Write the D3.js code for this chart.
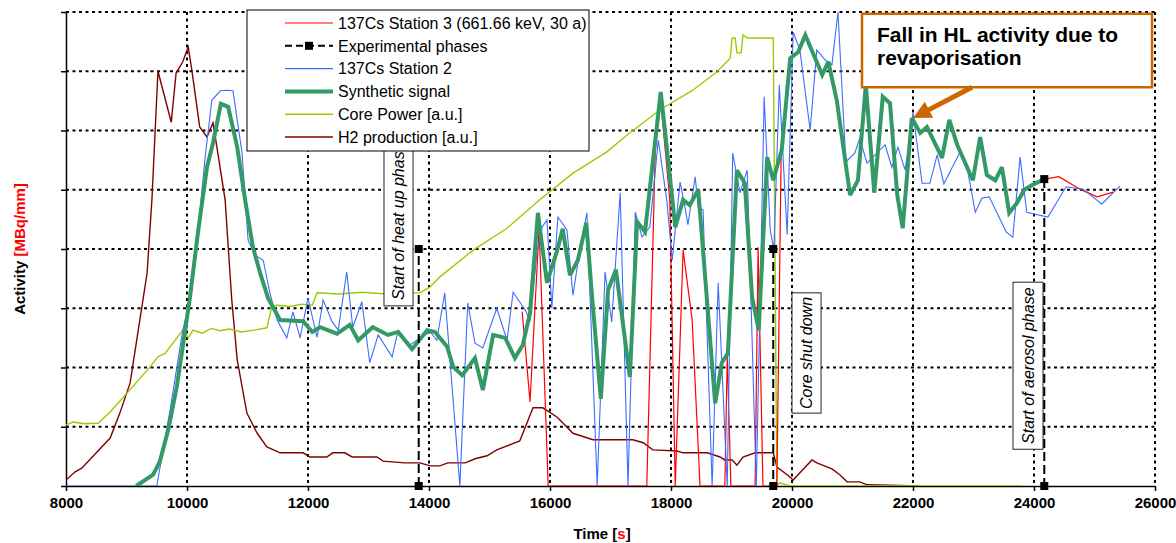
<!DOCTYPE html>
<html><head><meta charset="utf-8">
<script src="https://cdn.jsdelivr.net/npm/d3@7"></script>
<style>html,body{margin:0;padding:0;background:#fff;}svg{display:block;font-family:Arial,"Liberation Sans",sans-serif;}</style>
</head><body><svg id="chart" width="1176" height="543"></svg>
<script>
// ---------- DATA ----------
const xTicks = [8000,10000,12000,14000,16000,18000,20000,22000,24000,26000];
const yGrid = [0,1,2,3,4,5,6,7,8];

const h2Production = [[8000,0.10],[8150,0.24],[8260,0.30],[8730,0.81],[8890,1.23],[9060,1.74],[9220,2.80],[9340,3.59],[9420,4.83],[9520,7.00],[9740,6.14],[9820,6.97],[9930,7.16],[10020,7.41],[10080,7.02],[10210,6.06],[10330,5.89],[10430,6.13],[10510,5.62],[10630,4.83],[10740,3.14],[10830,2.13],[10990,1.23],[11160,0.89],[11320,0.66],[11540,0.56],[11920,0.56],[12030,0.49],[12310,0.49],[12410,0.56],[12610,0.56],[12730,0.49],[13140,0.49],[13240,0.42],[13600,0.39],[13850,0.39],[14020,0.34],[14180,0.34],[14310,0.39],[14600,0.39],[14760,0.46],[14960,0.51],[15120,0.61],[15500,0.76],[15720,1.32],[15880,1.32],[16120,1.16],[16380,0.89],[16710,0.78],[17370,0.78],[17540,0.73],[17700,0.61],[18100,0.59],[18200,0.56],[18600,0.56],[18810,0.49],[18890,0.44],[19010,0.44],[19090,0.35],[19190,0.49],[19390,0.56],[19690,0.56],[19750,0.32],[19920,0.19],[20020,0.10],[20100,0.19],[20330,0.44],[20410,0.39],[20660,0.29],[20790,0.19],[20910,0.07],[21120,0.07],[21240,0.02],[22120,0]];

const corePower = [[8000,1.03],[8120,1.08],[8300,1.05],[8530,1.06],[8730,1.25],[9010,1.57],[9390,2.01],[9520,2.18],[9640,2.24],[9930,2.63],[10020,2.50],[10100,2.63],[10250,2.58],[10400,2.66],[10550,2.62],[10700,2.65],[10900,2.60],[11100,2.63],[11320,2.67],[11400,3.02],[11490,3.05],[11700,3.03],[11900,3.07],[12070,3.05],[12150,3.26],[12500,3.24],[12900,3.27],[13300,3.24],[13600,3.26],[13850,3.26],[14020,3.36],[14180,3.53],[14730,3.98],[15290,4.35],[15830,4.83],[16380,5.28],[16940,5.64],[17270,5.92],[17820,6.35],[18360,6.68],[18760,6.99],[18980,7.22],[19010,7.56],[19060,7.56],[19090,7.31],[19160,7.31],[19190,7.61],[19260,7.56],[19690,7.56],[19750,0.02],[19800,0.05],[19970,0],[23770,0]];

const station3 = [[15540,2.94],[15670,1.42],[15820,4.35],[15970,0],[17600,0],[17740,5.67],[17830,6.51],[17980,4.83],[18070,0],[18200,3.98],[18350,2.80],[18480,0],[18890,0],[18930,2.21],[18990,0],[19390,0],[19440,4.03],[19520,0],[19750,0],[19820,5.55],null,[24170,5.18],[24410,5.22],[24760,5.01],[25040,4.88],[25310,4.96]];

const station2 = [[8000,0],[9500,0],[9720,1.28],[9930,2.63],[10000,2.92],[10170,4.15],[10300,5.55],[10410,6.51],[10550,6.67],[10660,6.68],[10760,6.67],[10910,5.62],[11010,4.15],[11120,3.90],[11260,3.81],[11370,3.26],[11490,2.80],[11650,2.50],[11750,2.94],[11870,2.50],[12000,3.17],[12150,2.51],[12250,3.14],[12400,2.77],[12500,2.63],[12640,3.61],[12740,2.68],[12890,3.11],[13020,2.08],[13160,2.55],[13390,2.18],[13490,2.63],[13690,2.38],[13850,2.50],[14020,2.60],[14130,2.46],[14260,3.26],[14510,0],[14640,3.09],[14760,2.41],[14890,2.33],[15120,3.00],[15290,2.46],[15390,3.27],[15590,2.97],[15670,2.80],[15790,3.98],[15870,4.37],[15950,4.49],[16030,3.00],[16130,4.54],[16280,4.32],[16380,3.22],[16500,4.03],[16610,4.61],[16780,0],[16910,3.61],[17020,2.77],[17160,4.95],[17290,0],[17410,4.62],[17520,4.20],[17650,4.37],[17790,5.84],[17930,4.83],[18020,3.81],[18070,4.32],[18150,5.13],[18230,4.71],[18280,4.41],[18400,5.22],[18450,4.71],[18530,4.66],[18680,0],[18780,3.43],[18930,0],[19020,5.62],[19140,4.95],[19260,5.33],[19410,0],[19540,6.57],[19640,4.32],[19700,3.98],[19790,6.77],[19920,4.24],[20020,7.66],[20130,7.36],[20300,6.01],[20410,7.36],[20550,7.19],[20660,7.11],[20760,8.0],[20890,5.47],[21040,5.62],[21120,5.87],[21240,5.45],[21540,5.76],[21650,5.38],[21750,5.72],[21870,5.33],[22000,6.30],[22150,5.11],[22280,5.11],[22400,5.59],[22510,5.10],[22780,5.64],[22910,5.28],[23030,4.62],[23140,4.86],[23260,4.88],[23540,4.29],[23650,4.20],[23770,5.55],[23880,4.62],[24230,4.54],[24530,5.05],[24810,5.01],[25120,4.76],[25420,5.06]];

const synthetic = [[9160,0],[9440,0.19],[9550,0.41],[9690,0.95],[9830,1.67],[9930,2.35],[10050,3.19],[10180,4.27],[10330,5.38],[10430,5.79],[10560,6.45],[10680,6.40],[10830,5.72],[10960,4.83],[11090,4.03],[11210,3.59],[11340,3.17],[11540,2.80],[11920,2.78],[12070,2.60],[12200,2.68],[12480,2.57],[12690,2.72],[12830,2.46],[13070,2.68],[13320,2.55],[13490,2.60],[13720,2.31],[13970,2.63],[14100,2.60],[14300,2.35],[14400,2.01],[14550,1.87],[14760,2.16],[14890,1.62],[15060,2.55],[15260,2.50],[15420,2.16],[15550,2.38],[15670,2.92],[15800,4.61],[15950,3.43],[16120,3.98],[16210,4.34],[16330,3.56],[16460,3.81],[16600,4.44],[16690,3.26],[16840,1.47],[16960,3.31],[17090,3.65],[17320,1.84],[17440,4.46],[17570,4.29],[17830,6.65],[17930,5.72],[18070,4.37],[18200,4.83],[18310,4.74],[18450,5.00],[18730,1.40],[18840,2.08],[18940,2.24],[19090,5.33],[19220,5.11],[19340,3.19],[19450,2.63],[19590,5.55],[19690,5.16],[19830,5.67],[19970,7.22],[20100,7.32],[20220,7.61],[20500,6.94],[20600,7.16],[20740,6.51],[20960,4.91],[21090,5.16],[21220,6.77],[21360,4.95],[21500,6.57],[21620,6.46],[21740,4.91],[21830,4.35],[21980,6.21],[22120,5.96],[22230,6.06],[22480,5.54],[22600,6.18],[22730,5.76],[22990,5.16],[23110,5.89],[23220,5.25],[23360,5.16],[23470,5.38],[23590,4.61],[23720,4.78],[23840,5.00],[23970,5.08],[24170,5.18]];

const phases = [[13830,0],[13830,4.0],null,[19690,4.0],[19690,0],null,[24170,5.18],[24170,0]];

const phaseLabels = ["Start of heat up phase","Core shut down","Start of aerosol phase"];
const legendLabels = ["137Cs Station 3 (661.66 keV, 30 a)","Experimental phases","137Cs Station 2","Synthetic signal","Core Power [a.u.]","H2 production [a.u.]"];
const annotationLines = ["Fall in HL activity due to","revaporisation"];

// ---------- LAYOUT ----------
const svg = d3.select("#chart");
const M = {left:66, right:1155, top:12, bottom:486};
const x = d3.scaleLinear().domain([8000,26000]).range([M.left,M.right]);
const y = d3.scaleLinear().domain([0,8]).range([M.bottom,M.top]);

const C = {red:"#ff0000", blue:"#3d6dff", green:"#339966", power:"#99cc00", h2:"#800000", orange:"#cc6600"};

// gridlines
const grid = svg.append("g");
grid.selectAll(".gy").data(yGrid.filter(d=>d>0)).join("line")
  .attr("x1",M.left).attr("x2",M.right).attr("y1",d=>y(d)).attr("y2",d=>y(d))
  .attr("stroke","#000").attr("stroke-width",2).attr("stroke-dasharray","3,3.5");
grid.selectAll(".gx").data(xTicks.filter(d=>d>8000)).join("line")
  .attr("x1",d=>x(d)).attr("x2",d=>x(d)).attr("y1",M.top).attr("y2",M.bottom)
  .attr("stroke","#000").attr("stroke-width",2).attr("stroke-dasharray","3,3.5");

// axes
const xAxis = svg.append("g").attr("transform",`translate(0,${M.bottom})`)
  .call(d3.axisBottom(x).tickValues(xTicks).tickFormat(d3.format("d")).tickSize(5).tickSizeOuter(0).tickPadding(6));
xAxis.select(".domain").attr("stroke","#000").attr("stroke-width",1.5);
xAxis.selectAll(".tick line").attr("stroke","#000").attr("stroke-width",1.5);
xAxis.selectAll("text").attr("font-size",15).attr("font-weight","bold").attr("fill","#000")
  .attr("font-family",'Arial,"Liberation Sans",sans-serif');

const yAxis = svg.append("g").attr("transform",`translate(${M.left},0)`)
  .call(d3.axisLeft(y).tickValues(yGrid).tickFormat("").tickSize(5).tickSizeOuter(0));
yAxis.select(".domain").attr("stroke","#000").attr("stroke-width",1.5);
yAxis.selectAll(".tick line").attr("stroke","#000").attr("stroke-width",1.5);

// axis titles
const xt = svg.append("text").attr("x",602).attr("y",539).attr("text-anchor","middle")
  .attr("font-size",15).attr("font-weight","bold");
xt.append("tspan").attr("fill","#000").text("Time [");
xt.append("tspan").attr("fill","#ff0000").text("s");
xt.append("tspan").attr("fill","#000").text("]");

const yt = svg.append("text").attr("transform","translate(25,249) rotate(-90)").attr("text-anchor","middle")
  .attr("font-size",15).attr("font-weight","bold");
yt.append("tspan").attr("fill","#000").text("Activity  ");
yt.append("tspan").attr("fill","#ff0000").text("[MBq/mm]");

// series
svg.append("clipPath").attr("id","clip").append("rect")
  .attr("x",M.left).attr("y",M.top-4).attr("width",M.right-M.left).attr("height",M.bottom-M.top+4);
const plot = svg.append("g").attr("clip-path","url(#clip)");
const line = d3.line().defined(d=>d!==null).x(d=>x(d[0])).y(d=>y(d[1]));

plot.append("path").datum(h2Production).attr("d",line).attr("fill","none").attr("stroke",C.h2).attr("stroke-width",1.4);
plot.append("path").datum(corePower).attr("d",line).attr("fill","none").attr("stroke",C.power).attr("stroke-width",1.4);
plot.append("path").datum(station3).attr("d",line).attr("fill","none").attr("stroke",C.red).attr("stroke-width",1.2);
plot.append("path").datum(station2).attr("d",line).attr("fill","none").attr("stroke",C.blue).attr("stroke-width",1.1);
plot.append("path").datum(synthetic).attr("d",line).attr("fill","none").attr("stroke",C.green).attr("stroke-width",4).attr("stroke-linejoin","miter").attr("stroke-miterlimit",3);

// phase label boxes
const boxes = [
  {t0:13256,t1:13736,v0:3.04,v1:5.9},
  {t0:20000,t1:20480,v0:1.23,v1:3.26},
  {t0:23653,t1:24149,v0:0.62,v1:3.44}
];
boxes.forEach((b,i)=>{
  const bx=x(b.t0), bw=x(b.t1)-x(b.t0), by=y(b.v1), bh=y(b.v0)-y(b.v1);
  svg.append("rect").attr("x",bx).attr("y",by).attr("width",bw).attr("height",bh)
    .attr("fill","#fff").attr("stroke","#222").attr("stroke-width",1);
  const cx = bx+bw/2+5.5, startY = i===0 ? by+bh-6 : by+bh/2;
  svg.append("text").attr("transform",`translate(${cx},${startY}) rotate(-90)`)
    .attr("text-anchor", i===0 ? "start" : "middle")
    .attr("font-size",16).attr("font-style","italic").attr("fill","#000").text(phaseLabels[i]);
});

// experimental phases
svg.append("path").datum(phases).attr("d",line).attr("fill","none").attr("stroke","#000")
  .attr("stroke-width",2).attr("stroke-dasharray","9,4");
svg.selectAll(".pm").data(phases.filter(d=>d!==null)).join("rect")
  .attr("x",d=>x(d[0])-4).attr("y",d=>y(d[1])-4).attr("width",8).attr("height",8).attr("fill","#000");

// legend
const L = svg.append("g");
L.append("rect").attr("x",247).attr("y",10).attr("width",342).attr("height",141)
  .attr("fill","#fff").attr("stroke","#000").attr("stroke-width",1);
const legendStyles = [
  {c:C.red,w:1.2},{c:"#000",w:2,dash:"7,4",marker:true},{c:C.blue,w:1.2},{c:C.green,w:4},{c:C.power,w:1.4},{c:C.h2,w:1.4}
];
legendLabels.forEach((lab,i)=>{
  const cy = 23 + i*22.8;
  const s = legendStyles[i];
  L.append("line").attr("x1",285).attr("x2",333).attr("y1",cy).attr("y2",cy)
    .attr("stroke",s.c).attr("stroke-width",s.w).attr("stroke-dasharray",s.dash||null);
  if(s.marker) L.append("rect").attr("x",305).attr("y",cy-4).attr("width",8).attr("height",8).attr("fill","#000");
  L.append("text").attr("x",338).attr("y",cy+5.8).attr("font-size",16).attr("fill","#000").text(lab);
});

// annotation
const ann = {t0:21157,t1:25951,vTop:7.97,vBot:6.73, tipT:22000, tipV:6.21, tailT:22975, tailV:6.73};
svg.append("rect").attr("x",x(ann.t0)).attr("y",y(ann.vTop)).attr("width",x(ann.t1)-x(ann.t0)).attr("height",y(ann.vBot)-y(ann.vTop))
  .attr("fill","#fff").attr("stroke",C.orange).attr("stroke-width",2.5);
annotationLines.forEach((t,i)=>{
  svg.append("text").attr("x",x(ann.t0)+15).attr("y",y(ann.vTop)+28+i*23)
    .attr("font-size",21).attr("font-weight","bold").attr("fill","#000").text(t);
});
{
  const x1=x(ann.tailT), y1=y(ann.tailV), x2=x(ann.tipT), y2=y(ann.tipV);
  const dx=x2-x1, dy=y2-y1, len=Math.hypot(dx,dy), ux=dx/len, uy=dy/len, nx=-uy, ny=ux;
  const hl=18, hw=9;
  const bx=x2-ux*hl, by=y2-uy*hl;
  svg.append("line").attr("x1",x1).attr("y1",y1).attr("x2",bx+ux*2).attr("y2",by+uy*2)
    .attr("stroke",C.orange).attr("stroke-width",5);
  svg.append("path").attr("d",`M${x2},${y2}L${bx+nx*hw},${by+ny*hw}L${bx-nx*hw},${by-ny*hw}Z`).attr("fill",C.orange);
}
</script></body></html>
